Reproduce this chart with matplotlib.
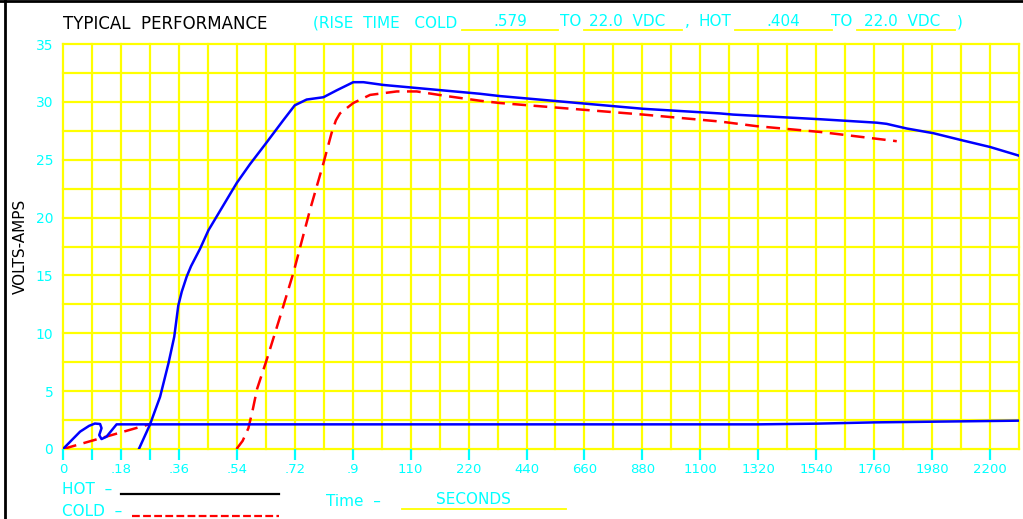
import matplotlib
matplotlib.use("Agg")
import matplotlib.pyplot as plt
from matplotlib.lines import Line2D

W, H = 1023, 519
CYAN = "#00FFFF"
YELLOW = "#FFFF00"
BLUE = "#0000FF"
RED = "#FF0000"

# x values are grid columns (the time scale of the sheet is not linear)
tick_pos = [0, 2, 4, 6, 8, 10, 12, 14, 16, 18, 20, 22, 24, 26, 28, 30, 32]
tick_labels = ["0", ".18", ".36", ".54", ".72", ".9", "110", "220", "440", "660",
               "880", "1100", "1320", "1540", "1760", "1980", "2200"]
minor_ticks = [1, 3]
y_ticks = [0, 5, 10, 15, 20, 25, 30, 35]

# HOT - first blip and the current line that follows
hot_low_x = [0, 0.59, 0.9, 1.1, 1.28, 1.33, 1.25, 1.33, 1.5, 1.85, 24, 26, 28, 30, 33]
hot_low_y = [0, 1.5, 2.0, 2.2, 2.16, 1.8, 1.2, 0.86, 1.06, 2.13, 2.13, 2.19, 2.3, 2.36, 2.45]

# HOT - voltage rise
hot_x = [2.62, 3.0, 3.35, 3.64, 3.84, 3.98, 4.1, 4.27, 4.42, 4.73, 5.02, 5.76, 6.0, 6.45,
         6.97, 7.6, 8.0, 8.41, 8.99, 9.45, 10.02, 10.37, 11.06, 14.39, 15.08, 20.03,
         22.68, 23.13, 26.13, 28.09, 28.43, 29.12, 29.8, 30.03, 31.0, 32.0, 33.0]
hot_y = [0, 2.1, 4.5, 7.4, 9.7, 12.4, 13.6, 14.9, 15.8, 17.3, 18.9, 22.0, 23.0, 24.6,
         26.3, 28.4, 29.7, 30.2, 30.4, 31.0, 31.7, 31.7, 31.46, 30.7, 30.5, 29.4,
         29.0, 28.9, 28.5, 28.2, 28.1, 27.7, 27.4, 27.3, 26.7, 26.1, 25.35]

# COLD - first ramp
cold_low_x = [0, 3.0]
cold_low_y = [0, 2.15]

# COLD - voltage rise
cold_x = [5.99, 6.2, 6.4, 6.55, 6.7, 7.03, 7.49, 7.95, 8.53, 8.99, 9.27, 9.42, 9.56,
          10.02, 10.6, 11.52, 12.21, 13.24, 14.39, 15.08, 20.03, 22.68, 23.94,
          26.13, 28.78]
cold_y = [0, 0.7, 1.8, 3.4, 5.2, 7.7, 11.4, 15.2, 20.7, 24.7, 27.3, 28.4, 29.0,
          29.9, 30.6, 30.9, 30.9, 30.5, 30.1, 29.9, 28.9, 28.3, 27.9,
          27.4, 26.6]


def fx(px):
    return px / W


def fy(py):
    return 1 - py / H


fig = plt.figure(figsize=(W / 100, H / 100), dpi=100)
fig.patch.set_facecolor("white")

ax = fig.add_axes([fx(63), fy(449), fx(1019) - fx(63), fy(44) - fy(449)])
ax.set_xlim(0, 33)
ax.set_ylim(0, 35)

# yellow grid
for gx in range(0, 34):
    ax.axvline(gx, color=YELLOW, lw=1.6, zorder=1, clip_on=False)
for i in range(0, 15):
    ax.axhline(i * 2.5, color=YELLOW, lw=1.6, zorder=1, clip_on=False)
for s in ax.spines.values():
    s.set_visible(False)

ax.plot(hot_low_x, hot_low_y, color=BLUE, lw=1.8, zorder=3)
ax.plot(hot_x, hot_y, color=BLUE, lw=1.8, zorder=3)
ax.plot(cold_low_x, cold_low_y, color=RED, lw=1.8, ls=(0, (5.5, 3)), zorder=2)
ax.plot(cold_x, cold_y, color=RED, lw=1.8, ls=(0, (5.5, 3)), zorder=2)

ax.set_xticks(tick_pos + minor_ticks)
ax.set_xticklabels(tick_labels + ["", ""])
ax.set_yticks(y_ticks)
ax.tick_params(axis="x", direction="out", length=8, width=1.6, color=CYAN,
               labelcolor=CYAN, labelsize=9.5, pad=2)
ax.tick_params(axis="y", length=0, labelcolor=CYAN, labelsize=10, pad=7)

ax.set_ylabel("VOLTS-AMPS", fontsize=11, color="black")
ax.yaxis.set_label_coords((27.5 - 63) / 956, 0.5)

# header
fig.text(fx(63), fy(24), "TYPICAL  PERFORMANCE", fontsize=12, color="black",
         ha="left", va="center")
fig.text(fx(313), fy(23), "(RISE  TIME   COLD", fontsize=11, color=CYAN,
         ha="left", va="center")
header = [(510, ".579"), (571, "TO"), (627, "22.0  VDC"), (687, ","), (715, "HOT"),
          (783, ".404"), (842, "TO"), (902, "22.0  VDC"), (960, ")")]
for px, txt in header:
    fig.text(fx(px), fy(22), txt, fontsize=11, color=CYAN, ha="center", va="center")
for x0, x1 in [(462, 558), (584, 682), (735, 832), (857, 955)]:
    fig.add_artist(Line2D([fx(x0), fx(x1)], [fy(29.5), fy(29.5)], color=YELLOW, lw=1.3))

# bottom legend
fig.text(fx(62), fy(490), "HOT  \u2013", fontsize=11, color=CYAN, ha="left", va="center")
fig.add_artist(Line2D([fx(121), fx(279)], [fy(494), fy(494)], color="black", lw=1.6))
fig.text(fx(62), fy(511), "COLD  \u2013", fontsize=11, color=CYAN, ha="left", va="center")
fig.add_artist(Line2D([fx(132), fx(279)], [fy(515.5), fy(515.5)], color=RED, lw=1.6,
                      ls=(0, (3.5, 1.5))))
fig.text(fx(326), fy(502), "Time  \u2013", fontsize=11, color=CYAN, ha="left", va="center")
fig.text(fx(473), fy(499), "SECONDS", fontsize=11, color=CYAN, ha="center", va="center")
fig.add_artist(Line2D([fx(402), fx(566)], [fy(509), fy(509)], color=YELLOW, lw=1.3))

# sheet border
fig.add_artist(Line2D([fx(5), fx(5)], [0, 1], color="black", lw=2))
fig.add_artist(Line2D([0, 1], [fy(1), fy(1)], color="black", lw=2))

fig.savefig("out.png", dpi=100)
